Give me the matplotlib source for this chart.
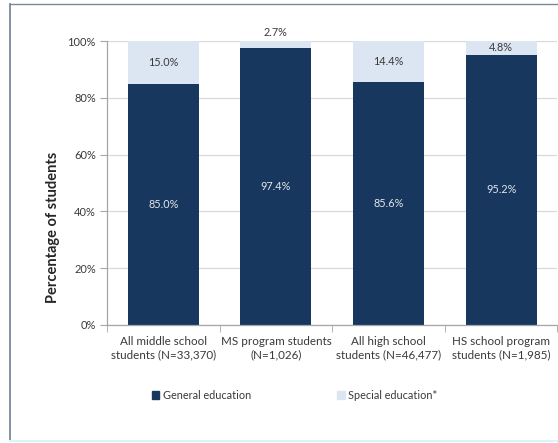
import matplotlib.pyplot as plt
import numpy as np
from matplotlib.lines import Line2D
from matplotlib.patches import Patch

plt.rcParams['font.family'] = ['Lato', 'DejaVu Sans']

# Share of students by program, in percent
groups = [
    "All middle school\nstudents (N=33,370)",
    "MS program students\n(N=1,026)",
    "All high school\nstudents (N=46,477)",
    "HS school program\nstudents (N=1,985)",
]
general_ed = [85.0, 97.4, 85.6, 95.2]
special_ed = [15.0, 2.7, 14.4, 4.8]
y_ticks = [0, 20, 40, 60, 80, 100]

navy = "#17375E"
pale = "#DCE6F2"
text_col = "#3A3A3A"

fig = plt.figure(figsize=(5.58, 4.43), dpi=100)
ax = fig.add_axes([0.1918, 0.2664, 0.8073, 0.641])

x = np.arange(len(groups))
width = 0.63
ax.bar(x, general_ed, width, color=navy, label="General education", zorder=2)
ax.bar(x, special_ed, width, bottom=general_ed, color=pale,
       label="Special education*", zorder=2)

# value labels
for xi, g, s in zip(x, general_ed, special_ed):
    ax.text(xi, g / 2, f"{g:.1f}%", ha="center", va="center",
            fontsize=7.8, color="#E4E6EA", zorder=3)
    if s < 4:
        ypos = g + s + 2.8
    else:
        ypos = g + s / 2
    ax.text(xi, ypos, f"{s:.1f}%", ha="center", va="center",
            fontsize=7.8, color=text_col, zorder=3)

ax.set_xlim(-0.5, len(groups) - 0.5)
ax.set_ylim(0, 100)
ax.set_yticks(y_ticks)
ax.set_yticklabels([f"{t}%" for t in y_ticks])
ax.yaxis.grid(True, color="#D9D9D9", linewidth=0.9, zorder=0)
ax.set_axisbelow(True)

ax.set_xticks(x)
ax.set_xticklabels(groups)
ax.set_xticks(np.arange(-0.5, len(groups)), minor=True)
ax.tick_params(axis="x", which="major", length=0, pad=8, labelsize=8.4,
               labelcolor=text_col)
ax.tick_params(axis="x", which="minor", length=5, color="#A6A6A6")
ax.tick_params(axis="y", length=5, color="#A6A6A6", labelsize=8,
               labelcolor=text_col, pad=3)

for side in ["top", "right"]:
    ax.spines[side].set_visible(False)
for side in ["left", "bottom"]:
    ax.spines[side].set_color("#A6A6A6")
    ax.spines[side].set_linewidth(0.9)

fig.text(53 / 558, 1 - 227 / 443, "Percentage of students", rotation=90,
         ha="center", va="center", fontsize=10.5, fontweight="bold",
         color="#262626")

handles = [Patch(color=navy), Patch(color=pale)]
fig.legend(handles, ["General education", "Special education*"],
           loc="center", bbox_to_anchor=(0.528, 0.108), ncol=2, frameon=False,
           handlelength=0.7, handleheight=0.7, handletextpad=0.3,
           columnspacing=8.0, fontsize=7.8, labelcolor=text_col)

# outer frame of the chart area
fig.add_artist(Line2D([9.5 / 558, 9.5 / 558], [1 - 4 / 443, 1 - 440 / 443],
                      transform=fig.transFigure, color="#7A8A9A", lw=1.3))
fig.add_artist(Line2D([9.5 / 558, 1], [1 - 4 / 443, 1 - 4 / 443],
                      transform=fig.transFigure, color="#7A8A9A", lw=1.0))
fig.add_artist(Line2D([9.5 / 558, 1], [1 - 440.5 / 443, 1 - 440.5 / 443],
                      transform=fig.transFigure, color="#D8F4FC", lw=1.5))

fig.savefig("out.png", dpi=100)
